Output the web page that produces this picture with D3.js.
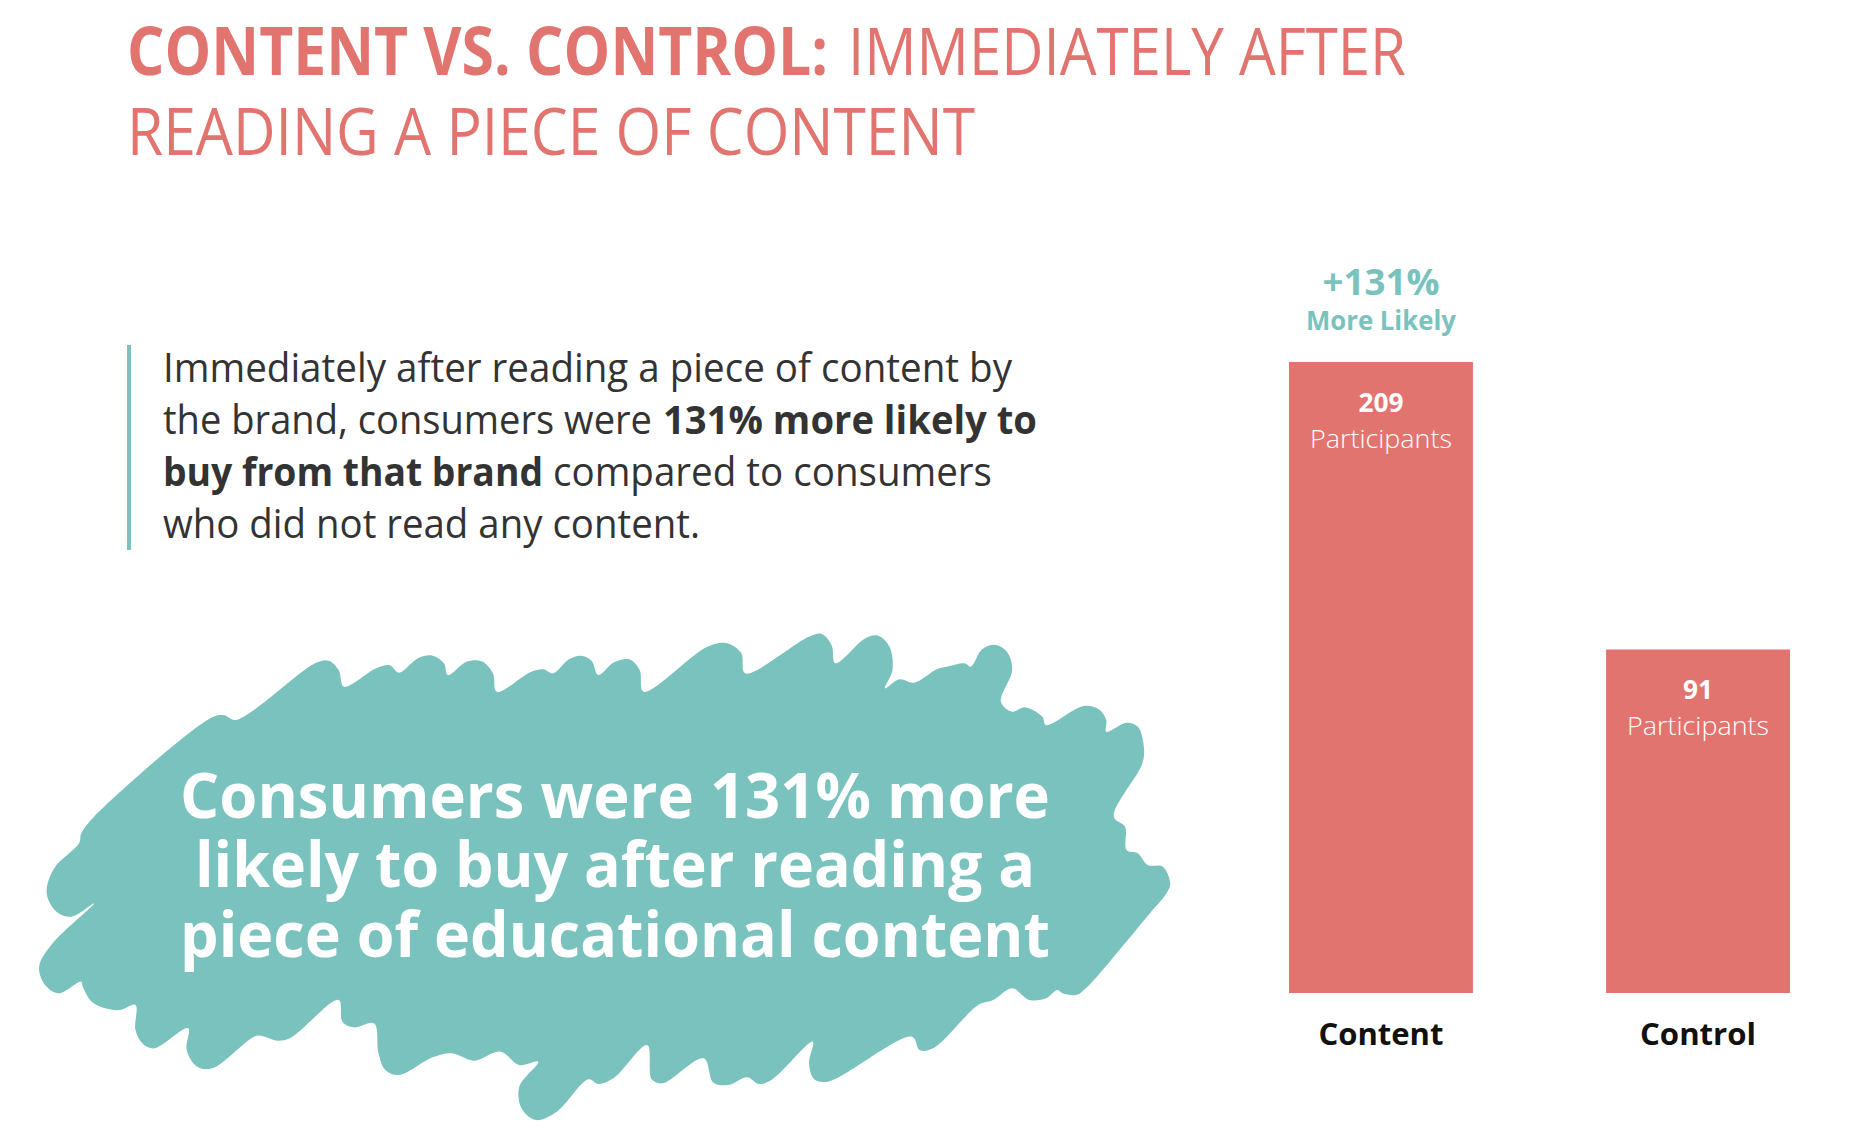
<!DOCTYPE html>
<html><head><meta charset="utf-8">
<script src="https://cdn.jsdelivr.net/npm/d3@7"></script>
<style>html,body{margin:0;padding:0;background:#fff;} svg{display:block}</style>
</head><body>
<svg id="chart" width="1872" height="1142"></svg>
<script>
// ---------- data ----------
const categories = ["Content", "Control"];
const participants = [209, 91];
const unitLabel = "Participants";
const liftValue = "+131%";
const liftText = "More Likely";
const titleBold = "CONTENT VS. CONTROL:";
const titleRegular = "IMMEDIATELY AFTER";
const titleLine2 = "READING A PIECE OF CONTENT";
const paragraphText = [
  ["Immediately after reading a piece of content by"],
  ["the brand, consumers were", "131% more likely to"],
  ["buy from that brand", "compared to consumers"],
  ["who did not read any content."]
];
const paragraphBold = [[false], [false, true], [true, false], [false]];
const calloutLines = ["Consumers were 131% more", "likely to buy after reading a", "piece of educational content"];
// brush-stroke outline (traced, in a 1568x1560 sketch space)
const blobOutline = [[282,292],[298,286],[313,300],
[420,128],[437,122],[450,150],[457,200],
[500,145],[518,136],[530,158],
[556,114],[575,107],[590,130],[595,165],
[620,125],[640,124],[655,160],[660,215],
[706,155],[722,148],[735,160],
[756,118],[772,107],[786,122],[795,165],
[816,127],[836,118],[850,150],[855,215],
[940,80],[966,70],[985,100],[990,160],
[1075,50],[1092,42],[1105,75],[1110,130],
[1150,55],[1167,47],[1182,80],[1186,150],[1176,205],
[1195,178],[1215,188],
[1245,148],[1262,138],[1282,130],[1290,140],
[1305,88],[1322,74],[1338,95],[1345,150],[1330,245],
[1345,275],[1362,262],[1385,290],[1390,315],
[1440,258],[1460,268],[1470,300],[1470,335],
[1497,308],[1512,320],[1520,380],[1518,430],
[1480,590],[1495,620],[1497,690],
[1512,700],[1525,735],[1545,740],[1555,790],[1550,820],
[1528,880],[1480,1010],[1445,1100],[1430,1125],[1412,1120],[1405,1110],
[1390,1135],[1368,1140],[1345,1105],
[1320,1140],[1300,1155],
[1240,1285],[1222,1290],[1212,1250],
[1100,1385],[1082,1378],[1075,1330],[1080,1265],
[1025,1380],[1008,1392],[993,1372],
[968,1395],[948,1388],[935,1315],
[880,1390],[866,1378],[860,1275],
[815,1375],[795,1392],[782,1378],
[740,1475],[712,1500],[693,1465],[690,1400],[715,1325],
[690,1335],[665,1295],[630,1322],[600,1300],[575,1312],
[530,1365],[512,1350],[503,1300],[497,1210],
[470,1222],[455,1205],[450,1140],
[385,1255],[368,1262],[352,1250],[340,1248],
[282,1345],[262,1340],[248,1290],[250,1225],
[205,1285],[190,1272],[180,1230],[180,1155],
[160,1170],[140,1165],[122,1145],[110,1100],[108,1085],
[78,1120],[60,1095],[52,1040],[70,970],[125,850],
[95,890],[75,875],[62,820],[72,745],[105,670],
[108,640],[125,590]];

// ---------- style / layout ----------
const CORAL = "#e27470", TEAL = "#7ac2bd", DARK = "#333333";
const FONT = "'Open Sans', 'Noto Sans', sans-serif";
const svg = d3.select("#chart");
svg.append("rect").attr("width", 1872).attr("height", 1142).attr("fill", "#fff");

function fitText(x, y, str, size, weight, color, width) {
  return svg.append("text").attr("x", x).attr("y", y).text(str)
    .attr("font-family", FONT).attr("font-size", size).attr("font-weight", weight)
    .attr("fill", color).attr("textLength", width).attr("lengthAdjust", "spacingAndGlyphs");
}
function fitCenter(cx, y, str, size, weight, color, width) {
  return fitText(cx - width / 2, y, str, size, weight, color, width);
}

// title
fitText(127, 75, titleBold, 66, 700, CORAL, 701);
fitText(848, 75, titleRegular, 66, 400, CORAL, 558);
fitText(127, 155, titleLine2, 66, 400, CORAL, 848);

// paragraph
svg.append("rect").attr("x", 127).attr("y", 345).attr("width", 4).attr("height", 205).attr("fill", TEAL);
const paraBase = [382, 434, 486, 538];
const paraLayout = [[[163, 849]], [[163, 489], [663, 374]], [[163, 380], [553, 439]], [[163, 537]]];
paragraphText.forEach((line, i) => {
  line.forEach((seg, j) => {
    fitText(paraLayout[i][j][0], paraBase[i], seg, 40, paragraphBold[i][j] ? 700 : 400, DARK, paraLayout[i][j][1]);
  });
});

// brush blob
const bx = d3.scaleLinear().domain([0, 1568]).range([0, 1180]);
const by = d3.scaleLinear().domain([0, 1560]).range([620, 1140]);
const blobLine = d3.line().x(d => bx(d[0])).y(d => by(d[1])).curve(d3.curveCatmullRomClosed.alpha(0.5));
svg.append("path").attr("d", blobLine(blobOutline)).attr("fill", TEAL);

const calloutBase = [818, 887, 957];
const calloutWidth = [870, 840, 870];
calloutLines.forEach((l, i) => fitCenter(615, calloutBase[i], l, 63, 700, "#fff", calloutWidth[i]));

// bars
const x = d3.scaleBand().domain(categories).range([1289, 1790]).paddingInner(0.42).paddingOuter(0);
const y = d3.scaleLinear().domain([-50, 209]).range([993, 362]);
const data = categories.map((c, i) => ({ cat: c, v: participants[i] }));

svg.selectAll("rect.bar").data(data).join("rect").attr("class", "bar")
  .attr("x", d => x(d.cat)).attr("width", x.bandwidth())
  .attr("y", d => y(d.v)).attr("height", d => y(y.domain()[0]) - y(d.v))
  .attr("fill", CORAL);

const numW = { 3: 45, 2: 30 };
data.forEach(d => {
  const cx = x(d.cat) + x.bandwidth() / 2;
  const top = y(d.v);
  const s = String(d.v);
  fitCenter(cx, top + 50, s, 27, 700, "#fff", numW[s.length] || 45);
  fitCenter(cx, top + 86, unitLabel, 25, 300, "#fff", 142);
  fitCenter(cx, 1045, d.cat, 29.5, 700, "#111", d.cat === "Content" ? 125 : 116);
});

// lift annotation over first bar
const c0 = x(categories[0]) + x.bandwidth() / 2;
fitCenter(c0, y(participants[0]) - 67, liftValue, 35, 700, TEAL, 117);
fitCenter(c0, y(participants[0]) - 32, liftText, 26, 700, TEAL, 150);
</script>
</body></html>
